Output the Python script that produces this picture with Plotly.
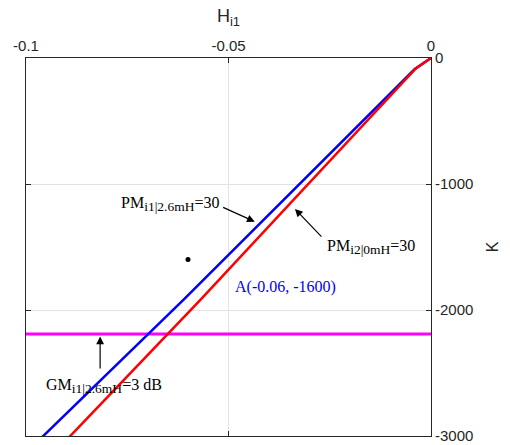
import plotly.graph_objects as go

# Root-locus style traces: K versus H_i1
h_blue = [0.0, -0.0015, -0.0040, -0.0612, -0.0958, -0.0975]
k_blue = [0, -35, -88, -1921, -3000, -3055]

h_red = [0.0, -0.0015, -0.0038, -0.0570, -0.0891, -0.0910]
k_red = [0, -35, -85, -1921, -3000, -3065]

# Gain-margin limit line
h_gm = [-0.1, 0.0]
k_gm = [-2190, -2190]

# Marked operating point
point_a_h = [-0.06]
point_a_k = [-1600]

x_ticks = [-0.1, -0.05, 0]
x_tick_text = ["-0.1", "-0.05", "0"]
y_ticks = [0, -1000, -2000, -3000]
y_tick_text = ["0", "-1000", "-2000", "-3000"]

fig = go.Figure()
fig.add_trace(go.Scatter(x=h_gm, y=k_gm, mode="lines",
                         line=dict(color="#ff00ff", width=3), showlegend=False))
fig.add_trace(go.Scatter(x=h_blue, y=k_blue, mode="lines",
                         line=dict(color="#0000ff", width=2.5), showlegend=False))
fig.add_trace(go.Scatter(x=h_red, y=k_red, mode="lines",
                         line=dict(color="#ff0000", width=2.5), showlegend=False))
fig.add_trace(go.Scatter(x=point_a_h, y=point_a_k, mode="markers",
                         marker=dict(color="black", size=5), showlegend=False))

serif = dict(family="Liberation Serif, Times New Roman, serif", size=16, color="black")


def sub(s, size=13.5):
    return "<sub><span style='font-size:%spx'>%s</span></sub>" % (size, s)


# Arrows (data coordinates for both ends)
arrows = [
    (-0.0517, -1180, -0.0435, -1299),
    (-0.0267, -1429, -0.0336, -1198),
    (-0.0817, -2476, -0.0817, -2210),
]
for tx, ty, hx, hy in arrows:
    fig.add_annotation(x=hx, y=hy, ax=tx, ay=ty, xref="x", yref="y",
                       axref="x", ayref="y", text="", showarrow=True,
                       arrowhead=2, arrowsize=1.3, arrowwidth=1.2, arrowcolor="black")

fig.add_annotation(x=-0.0515, y=-1160, xref="x", yref="y", xanchor="right", yanchor="middle",
                   text="PM" + sub("i1|2.6mH") + "=30", showarrow=False, font=serif)
fig.add_annotation(x=-0.0262, y=-1500, xref="x", yref="y", xanchor="left", yanchor="middle",
                   text="PM" + sub("i2|0mH") + "=30", showarrow=False, font=serif)
fig.add_annotation(x=-0.0489, y=-1817, xref="x", yref="y", xanchor="left", yanchor="middle",
                   text="A(-0.06, -1600)", showarrow=False,
                   font=dict(family=serif["family"], size=16, color="#0000ff"))
fig.add_annotation(x=-0.0956, y=-2600, xref="x", yref="y", xanchor="left", yanchor="middle",
                   text="GM" + sub("i1|2.6mH") + "=3 dB", showarrow=False, font=serif)

axis_font = dict(family="Liberation Sans, Arial, sans-serif", size=15, color="#262626")

fig.update_layout(
    width=510, height=445,
    margin=dict(l=26, r=79, t=58, b=9),
    paper_bgcolor="white", plot_bgcolor="white",
    font=axis_font,
    xaxis=dict(range=[-0.1, 0], side="top", tickvals=x_ticks, ticktext=x_tick_text,
               title=dict(text="H" + sub("i1", 13), font=dict(size=18), standoff=9),
               automargin=False,
               showgrid=True, gridcolor="#e3e3e3", gridwidth=1,
               showline=True, linecolor="#262626", linewidth=1, mirror="ticks",
               ticks="inside", ticklen=5, tickcolor="#262626", zeroline=False),
    yaxis=dict(range=[-3000, 0], side="right", tickvals=y_ticks, ticktext=y_tick_text,
               title=dict(text="K", font=dict(size=16), standoff=14),
               automargin=False,
               showgrid=True, gridcolor="#e3e3e3", gridwidth=1,
               showline=True, linecolor="#262626", linewidth=1, mirror="ticks",
               ticks="inside", ticklen=5, tickcolor="#262626", zeroline=False),
)

fig.write_html("out.html")
